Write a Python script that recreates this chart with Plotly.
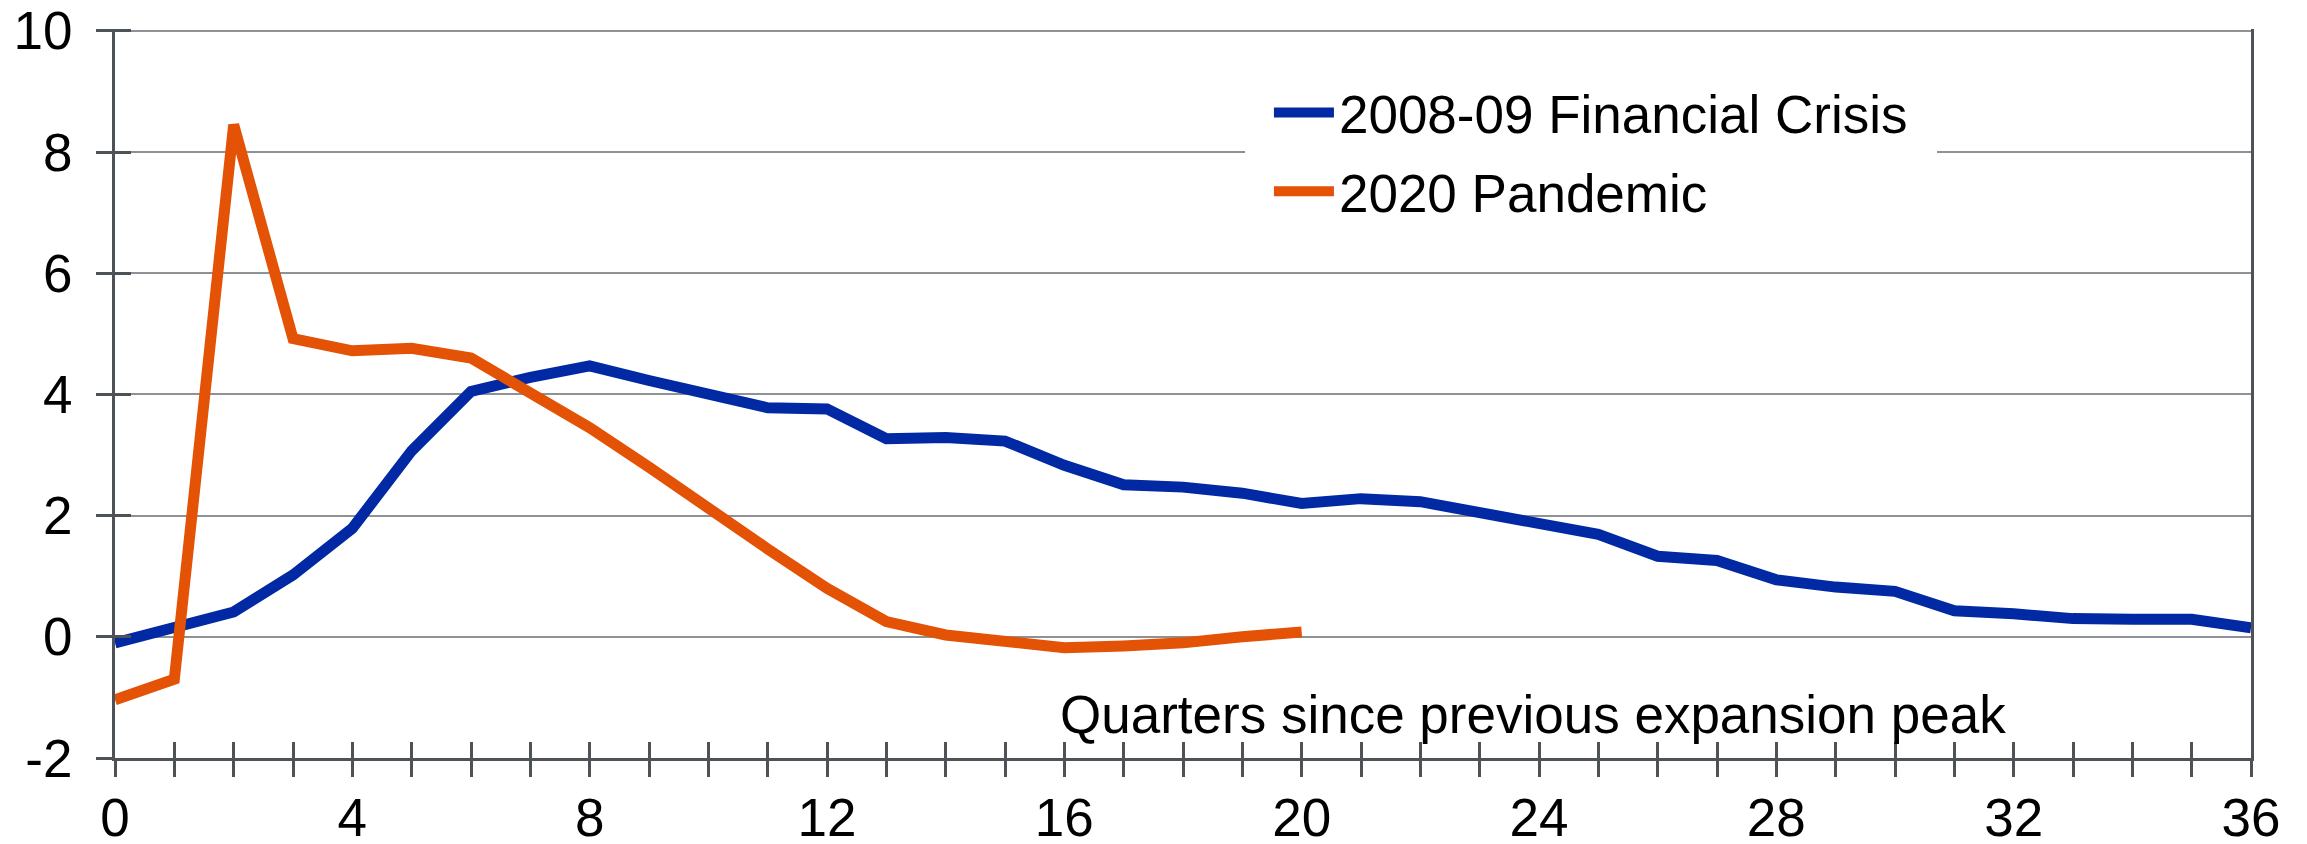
import plotly.graph_objects as go

# ------------------ Dados ------------------ #

quarters_gfc = list(range(0, 37))
gfc_values = [
    -0.10, 0.15, 0.41, 1.02, 1.79, 3.07, 4.05, 4.28, 4.47, 4.23,
    4.00, 3.78, 3.76, 3.27, 3.29, 3.23, 2.83, 2.51, 2.47, 2.37,
    2.20, 2.28, 2.23, 2.06, 1.88, 1.69, 1.33, 1.26, 0.94, 0.82,
    0.75, 0.43, 0.38, 0.30, 0.29, 0.29, 0.15,
]

quarters_pandemic = list(range(0, 21))
pandemic_values = [
    -1.04, -0.70, 8.45, 4.92, 4.72, 4.76, 4.60, 4.05, 3.45, 2.80,
    2.10, 1.45, 0.80, 0.25, 0.03, -0.07, -0.18, -0.15, -0.10, 0.00,
    0.08,
]

series_names = ["2008-09 Financial Crisis", "2020 Pandemic"]
x_tick_values = list(range(0, 37))
x_tick_labels = [str(q) if q % 4 == 0 else "" for q in x_tick_values]
y_tick_values = [-2, 0, 2, 4, 6, 8, 10]
y_tick_labels = ["-2", "0", "2", "4", "6", "8", "10"]
annotation_text = "Quarters since previous expansion peak"

# ------------------ Estilo ------------------ #

FONT = "Liberation Sans, Arial, sans-serif"
BLUE = "#0029a3"
ORANGE = "#e35205"
AXIS = "#4d5257"
GRID = "#8e9297"

fig = go.Figure()
fig.add_trace(
    go.Scatter(
        x=quarters_gfc,
        y=gfc_values,
        mode="lines",
        name=series_names[0],
        legendgroup="gfc",
        line=dict(color=BLUE, width=11),
    )
)
fig.add_trace(
    go.Scatter(
        x=quarters_pandemic,
        y=pandemic_values,
        mode="lines",
        name=series_names[1],
        legendgroup="pandemic",
        line=dict(color=ORANGE, width=11),
    )
)
# eixo sobreposto, so para desenhar a parte interna dos ticks
fig.add_trace(
    go.Scatter(
        x=[], y=[], xaxis="x2", yaxis="y2", showlegend=False, hoverinfo="skip"
    )
)

fig.add_annotation(
    x=15.9,
    y=-1.29,
    xref="x",
    yref="y",
    text=annotation_text,
    showarrow=False,
    xanchor="left",
    yanchor="middle",
    font=dict(size=53, color="black", family=FONT),
)

tick_style = dict(ticklen=16, tickwidth=3, tickcolor=AXIS)

# a pagina tem 8px de margem no body, por isso a figura fica 8px menor
fig.update_layout(
    width=2299,
    height=836,
    margin=dict(l=107, r=56, t=21, b=86),
    paper_bgcolor="white",
    plot_bgcolor="white",
    font=dict(family=FONT, size=53, color="black"),
    showlegend=True,
    legend=dict(
        x=0.529,
        y=0.9746,
        xanchor="left",
        yanchor="top",
        bgcolor="white",
        bordercolor="white",
        borderwidth=24,
        font=dict(size=53, family=FONT, color="black"),
        itemwidth=60,
        tracegroupgap=7,
        traceorder="grouped",
    ),
    xaxis=dict(
        range=[0, 36],
        tickmode="array",
        tickvals=x_tick_values,
        ticktext=x_tick_labels,
        ticks="outside",
        **tick_style,
        ticklabelstandoff=-5,
        showline=True,
        linecolor=AXIS,
        linewidth=3,
        showgrid=False,
        zeroline=False,
        automargin=False,
        tickfont=dict(size=53),
    ),
    xaxis2=dict(
        range=[0, 36],
        overlaying="x",
        anchor="y2",
        side="bottom",
        tickmode="array",
        tickvals=x_tick_values,
        ticks="inside",
        **tick_style,
        showticklabels=False,
        showline=False,
        showgrid=False,
        zeroline=False,
        automargin=False,
    ),
    yaxis=dict(
        range=[-2, 10.03],
        tickmode="array",
        tickvals=y_tick_values,
        ticktext=y_tick_labels,
        ticks="outside",
        **tick_style,
        ticklabelstandoff=13,
        ticklabeloverflow="allow",
        showline=True,
        mirror=True,
        linecolor=AXIS,
        linewidth=3,
        showgrid=True,
        gridcolor=GRID,
        gridwidth=2,
        zeroline=False,
        automargin=False,
        tickfont=dict(size=53),
    ),
    yaxis2=dict(
        range=[-2, 10.03],
        overlaying="y",
        anchor="x2",
        side="left",
        tickmode="array",
        tickvals=y_tick_values,
        ticks="inside",
        **tick_style,
        showticklabels=False,
        showline=False,
        showgrid=False,
        zeroline=False,
        automargin=False,
    ),
)

fig.write_html("out.html")
